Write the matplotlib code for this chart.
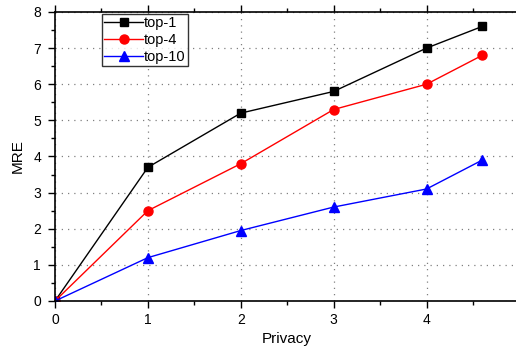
import matplotlib
matplotlib.use('Agg')
import matplotlib.pyplot as plt
from matplotlib.ticker import MultipleLocator

plt.rcParams['font.family'] = ['Liberation Sans', 'DejaVu Sans']

# data
privacy = [0, 1, 2, 3, 4, 4.6]
top1 = [0, 3.7, 5.2, 5.8, 7.0, 7.6]
top4 = [0, 2.5, 3.8, 5.3, 6.0, 6.8]
top10 = [0, 1.2, 1.95, 2.6, 3.1, 3.9]

fig = plt.figure(figsize=(5.16, 3.47), dpi=100)
ax = fig.add_axes([0.1066, 0.1326, 0.9, 0.8329])

ax.plot(privacy, top1, color='black', marker='s', markersize=6, linewidth=1, label='top-1')
ax.plot(privacy, top4, color='red', marker='o', markersize=6.5, linewidth=1, label='top-4')
ax.plot(privacy, top10, color='blue', marker='^', markersize=7, linewidth=1, label='top-10')

ax.set_xlim(0, 5)
ax.set_ylim(0, 8)
ax.xaxis.set_major_locator(MultipleLocator(1))
ax.xaxis.set_minor_locator(MultipleLocator(0.5))
ax.yaxis.set_major_locator(MultipleLocator(1))
ax.yaxis.set_minor_locator(MultipleLocator(0.5))
ax.tick_params(which='major', length=5, width=1, labelsize=10)
ax.tick_params(which='minor', length=3, width=1)
ax.tick_params(axis='y', pad=5)
ax.tick_params(axis='x', top=True, which='both')
ax.grid(True, linestyle=(0, (1, 4)), color='gray', linewidth=0.9)
for s in ax.spines.values():
    s.set_linewidth(1.2)

ax.set_xlabel('Privacy', fontsize=11)
ax.set_ylabel('MRE', fontsize=11, labelpad=6)

leg = ax.legend(loc='upper left', bbox_to_anchor=(0.101, 0.994), frameon=True, fancybox=False,
                edgecolor='black', fontsize=10.5, handlelength=2.7, borderpad=0.15,
                labelspacing=0.22, handletextpad=0.05, borderaxespad=0)
leg.get_frame().set_linewidth(1)

plt.savefig('out.png', dpi=100)
